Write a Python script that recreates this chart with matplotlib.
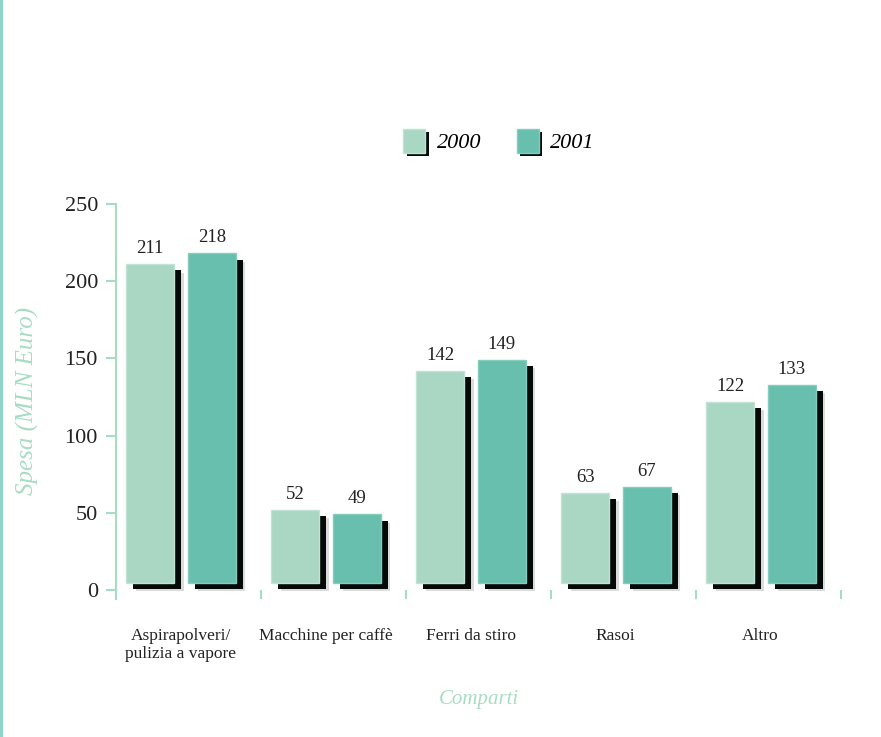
import matplotlib
matplotlib.use("Agg")
import matplotlib.pyplot as plt
import matplotlib.patheffects as pe
from matplotlib.lines import Line2D
import numpy as np

categories = ["Aspirapolveri/\npulizia a vapore", "Macchine per caffè", "Ferri da stiro", "Rasoi", "Altro"]
series_names = ["2000", "2001"]
values_2000 = [211, 52, 142, 63, 122]
values_2001 = [218, 49, 149, 67, 133]
yticks = [0, 50, 100, 150, 200, 250]

col_2000 = "#a9d7c3"
col_2001 = "#68bfae"
green_txt = "#a8dcc4"
axis_col = "#a6dcc2"

plt.rcParams['font.family'] = ['Liberation Serif', 'DejaVu Serif']

fig = plt.figure(figsize=(8.81, 7.37), dpi=100)
ax = fig.add_axes([0.1317, 0.1879, 0.823, 0.5353])

x = np.arange(len(categories))
w = 0.33
lift = 4.5  # visual lift of the bar faces above the baseline (3D look)
shadow = [pe.SimplePatchShadow(offset=(7, -6), shadow_rgbFace="#888888", alpha=0.3),
          pe.SimplePatchShadow(offset=(5, -4.5), shadow_rgbFace="#050a08", alpha=1.0),
          pe.Normal()]

v1 = np.array(values_2000)
v2 = np.array(values_2001)
bars1 = ax.bar(x - 0.265, v1 - lift, w, bottom=lift, color=col_2000, edgecolor="#bfe3d4",
               linewidth=1.0, label=series_names[0], zorder=3)
bars2 = ax.bar(x + 0.16, v2 - lift, w, bottom=lift, color=col_2001, edgecolor="#86cdbd",
               linewidth=1.0, label=series_names[1], zorder=3)
for b in list(bars1) + list(bars2):
    b.set_path_effects(shadow)

for bars, vals in ((bars1, values_2000), (bars2, values_2001)):
    for b, v in zip(bars, vals):
        ax.annotate(str(v), (b.get_x() + b.get_width() / 2, v), xytext=(0, 5),
                    textcoords="offset points", ha="center", va="bottom",
                    fontsize=13.5, color="#222222")

ax.set_xlim(-0.5, len(categories) - 0.5)
ax.set_ylim(-5.5, 250)
ax.set_yticks(yticks)
ax.set_yticklabels([str(t) for t in yticks], fontsize=16, color="#222222")
ax.tick_params(axis="y", direction="out", length=7, width=1.5, color=axis_col, pad=6)

ax.set_xticks(x - 0.055)
ax.set_xticklabels(categories, fontsize=12.5, color="#222222", va="top")
ax.tick_params(axis="x", which="major", length=0, pad=21)
ax.set_xticks(np.arange(-0.5, len(categories)), minor=True)
ax.tick_params(axis="x", which="minor", direction="in", length=6.5, width=1.5, color=axis_col)

for s in ["top", "right", "bottom"]:
    ax.spines[s].set_visible(False)
ax.spines["left"].set_color(axis_col)
ax.spines["left"].set_linewidth(1.5)

ax.set_xlabel("Comparti", fontsize=15, style="italic", color=green_txt, labelpad=20)
ax.yaxis.set_label_coords(-0.106, 0.518)
ax.set_ylabel("Spesa (MLN Euro)", fontsize=18, style="italic", color=green_txt)

leg = ax.legend(loc="center", bbox_to_anchor=(0.528, 1.16), ncol=2, frameon=False,
                prop={"style": "italic", "size": 16}, handlelength=1.0,
                handleheight=1.3, columnspacing=1.6, handletextpad=0.5)
for h in leg.legend_handles:
    h.set_path_effects([pe.SimplePatchShadow(offset=(2.5, -2.5), shadow_rgbFace="#050a08", alpha=1.0), pe.Normal()])

fig.add_artist(Line2D([0.0015, 0.0015], [0, 1], transform=fig.transFigure, color="#8fd4c4", linewidth=3))

fig.savefig("out.png", dpi=100)
